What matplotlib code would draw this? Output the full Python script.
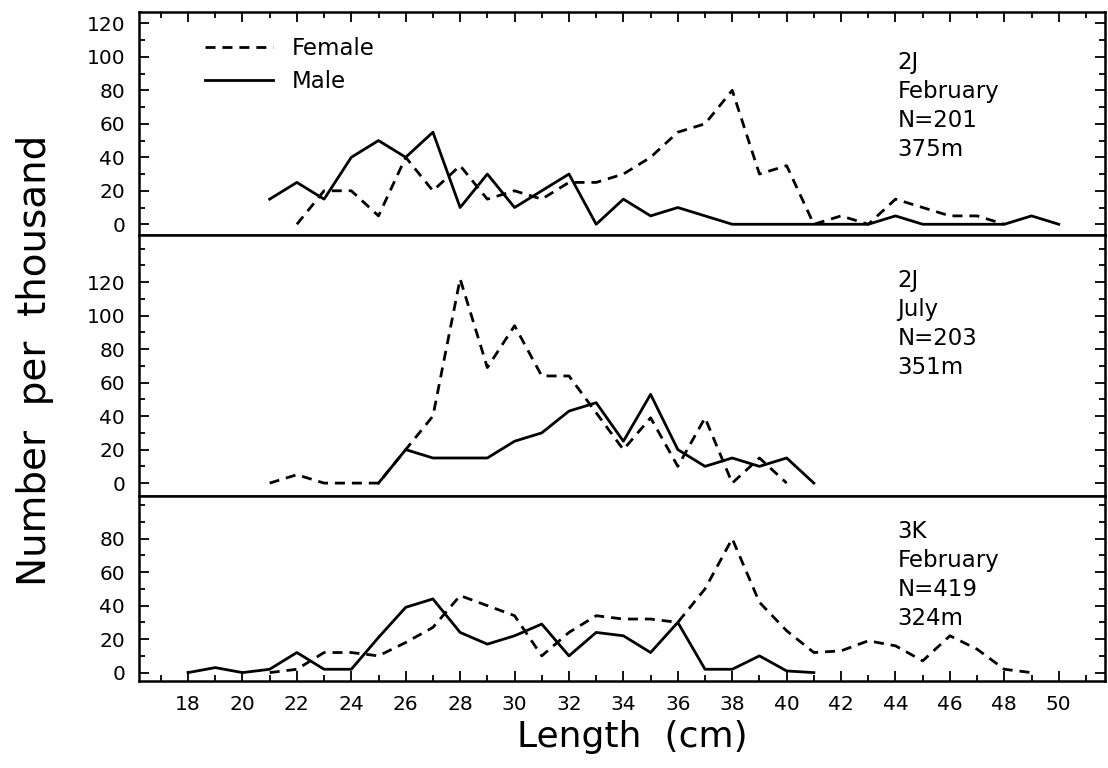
import matplotlib.pyplot as plt
from matplotlib.ticker import MultipleLocator

# 2J February (N=201, 375m) - number per thousand at length (cm)
feb2j_f_len = [22, 23, 24, 25, 26, 27, 28, 29, 30, 31, 32, 33, 34, 35, 36, 37, 38, 39, 40,
               41, 42, 43, 44, 45, 46, 47, 48]
feb2j_f_val = [0, 20, 20, 5, 40, 20, 35, 15, 20, 15, 25, 25, 30, 40, 55, 60, 80, 30, 35,
               0, 5, 0, 15, 10, 5, 5, 0]
feb2j_m_len = [21, 22, 23, 24, 25, 26, 27, 28, 29, 30, 31, 32, 33, 34, 35, 36, 37, 38, 39,
               40, 41, 42, 43, 44, 45, 46, 47, 48, 49, 50]
feb2j_m_val = [15, 25, 15, 40, 50, 40, 55, 10, 30, 10, 20, 30, 0, 15, 5, 10, 5, 0, 0,
               0, 0, 0, 0, 5, 0, 0, 0, 0, 5, 0]

# 2J July (N=203, 351m)
jul2j_f_len = [21, 22, 23, 24, 25, 26, 27, 28, 29, 30, 31, 32, 33, 34, 35, 36, 37, 38, 39, 40]
jul2j_f_val = [0, 5, 0, 0, 0, 20, 40, 122, 69, 94, 64, 64, 42, 20, 39, 10, 39, 0, 15, 0]
jul2j_m_len = [25, 26, 27, 28, 29, 30, 31, 32, 33, 34, 35, 36, 37, 38, 39, 40, 41]
jul2j_m_val = [0, 20, 15, 15, 15, 25, 30, 43, 48, 25, 53, 20, 10, 15, 10, 15, 0]

# 3K February (N=419, 324m)
feb3k_f_len = [21, 22, 23, 24, 25, 26, 27, 28, 29, 30, 31, 32, 33, 34, 35, 36, 37, 38, 39,
               40, 41, 42, 43, 44, 45, 46, 47, 48, 49]
feb3k_f_val = [0, 2, 12, 12, 10, 18, 27, 46, 40, 34, 10, 24, 34, 32, 32, 30, 50, 80, 42,
               25, 12, 13, 19, 16, 7, 22, 14, 2, 0]
feb3k_m_len = [18, 19, 20, 21, 22, 23, 24, 25, 26, 27, 28, 29, 30, 31, 32, 33, 34, 35, 36,
               37, 38, 39, 40, 41]
feb3k_m_val = [0, 3, 0, 2, 12, 2, 2, 21, 39, 44, 24, 17, 22, 29, 10, 24, 22, 12, 30,
               2, 2, 10, 1, 0]

panel_labels = ['2J\nFebruary\nN=201\n375m', '2J\nJuly\nN=203\n351m', '3K\nFebruary\nN=419\n324m']
panel_ylims = [(-6.6, 126.8), (-8.0, 148.0), (-5.0, 105.2)]
panel_ymax_label = [120, 120, 80]
label_tops = [103.5, 127.9, 91.0]

plt.rcParams['font.family'] = 'DejaVu Sans'
FS_TICK = 14.5
FS_TEXT = 16.5


def style_axis(ax, ylim, ymax_label):
    ax.set_ylim(*ylim)
    ax.set_xlim(16.2, 51.7)
    ax.yaxis.set_major_locator(MultipleLocator(20))
    ax.yaxis.set_minor_locator(MultipleLocator(10))
    ax.xaxis.set_major_locator(MultipleLocator(2))
    ax.xaxis.set_minor_locator(MultipleLocator(1))
    ax.set_yticks([t for t in range(0, ymax_label + 1, 20)])
    for s in ax.spines.values():
        s.set_linewidth(1.8)
    ax.tick_params(axis='y', which='both', direction='in', left=True, right=True,
                   labelsize=FS_TICK, pad=10, width=1.3)
    ax.tick_params(axis='y', which='major', length=7)
    ax.tick_params(axis='y', which='minor', length=4)
    ax.tick_params(axis='x', which='both', direction='in', bottom=False, top=False,
                   labelbottom=False, width=1.3)
    ax.tick_params(axis='x', which='major', length=7)
    ax.tick_params(axis='x', which='minor', length=4)


fig = plt.figure(figsize=(11.08, 7.68), dpi=100)
gs = fig.add_gridspec(3, 1, height_ratios=[133.4, 156.0, 110.2], hspace=0,
                      left=0.1255, right=0.9973, top=0.9844, bottom=0.1133)
axes = [fig.add_subplot(gs[i]) for i in range(3)]

data = [(feb2j_f_len, feb2j_f_val, feb2j_m_len, feb2j_m_val),
        (jul2j_f_len, jul2j_f_val, jul2j_m_len, jul2j_m_val),
        (feb3k_f_len, feb3k_f_val, feb3k_m_len, feb3k_m_val)]

for i, ax in enumerate(axes):
    f_len, f_val, m_len, m_val = data[i]
    lf, = ax.plot(f_len, f_val, color='black', lw=2.0, label='Female')
    lf.set_dashes((3.6, 2.5))
    ax.plot(m_len, m_val, color='black', lw=2.0, label='Male')
    style_axis(ax, panel_ylims[i], panel_ymax_label[i])
    ax.text(44.08, label_tops[i], panel_labels[i], va='top', ha='left',
            fontsize=FS_TEXT, linespacing=1.33)

# top panel has ticks along the top edge, bottom panel carries the x axis
axes[0].tick_params(axis='x', which='both', top=True)
axes[2].tick_params(axis='x', which='both', bottom=True, labelbottom=True,
                    labelsize=FS_TICK, pad=10)
axes[2].set_xticks(list(range(18, 51, 2)))

axes[0].legend(loc='upper left', bbox_to_anchor=(0.068, 0.89), frameon=False,
               borderpad=0, borderaxespad=0, handlelength=3.0, handletextpad=0.8,
               labelspacing=0.45, fontsize=FS_TEXT)

fig.text(0.571, 0.0273, 'Length  (cm)', ha='center', va='baseline', fontsize=26)
fig.text(0.032, 0.531, 'Number  per  thousand', ha='center', va='center',
         rotation=90, fontsize=28)

fig.savefig('out.png', dpi=100)
